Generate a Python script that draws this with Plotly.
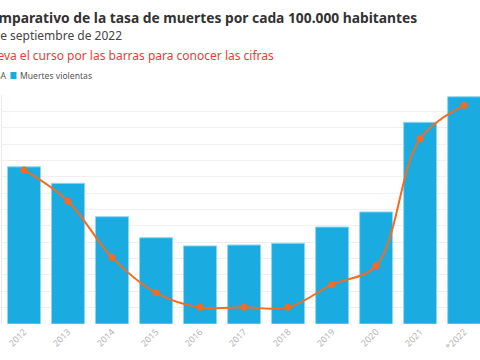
import plotly.graph_objects as go

years = ["2012", "2013", "2014", "2015", "2016", "2017", "2018", "2019", "2020", "2021", "*2022"]
muertes = [1922, 1720, 1312, 1055, 955, 966, 987, 1186, 1370, 2466, 2779]
tasa = [12.4, 10.9, 8.2, 6.5, 5.8, 5.8, 5.8, 6.9, 7.8, 13.9, 15.5]

W, H = 480, 360
L, R, T, B = 2, 0, 95, 36
pw, ph = W - L - R, H - T - B

def px(x):
    return (x - L) / pw

def py(y):
    return (H - B - y) / ph

FONT = "Noto Sans"

fig = go.Figure()
fig.add_trace(go.Bar(
    x=years, y=muertes, name="Muertes violentas",
    marker=dict(color="#1AABE0", line=dict(color="#8ED6F2", width=1)),
    yaxis="y", showlegend=False,
))
fig.add_trace(go.Scatter(
    x=years, y=tasa, name="TASA", mode="lines+markers",
    line=dict(color="#F36C21", width=2, shape="spline", smoothing=1),
    marker=dict(color="#F36C21", size=7),
    yaxis="y2", showlegend=False,
))

annotations = [
    dict(text="<b>Comparativo de la tasa de muertes por cada 100.000 habitantes</b>",
         x=px(418), y=py(17), xanchor="right", yanchor="middle",
         font=dict(family=FONT, size=13.8, color="#333333")),
    dict(text="Datos al 30 de septiembre de 2022",
         x=px(123), y=py(35), xanchor="right", yanchor="middle",
         font=dict(family=FONT, size=12, color="#444444")),
    dict(text="Lleva el curso por las barras para conocer las cifras",
         x=px(275), y=py(55), xanchor="right", yanchor="middle",
         font=dict(family=FONT, size=12, color="#F03A3A")),
    dict(text="TASA",
         x=px(7), y=py(76), xanchor="right", yanchor="middle",
         font=dict(family=FONT, size=8.6, color="#555555")),
    dict(text="Muertes violentas",
         x=px(19), y=py(76), xanchor="left", yanchor="middle",
         font=dict(family=FONT, size=8.6, color="#555555")),
]
for a in annotations:
    a.update(xref="paper", yref="paper", showarrow=False, borderpad=0)

fig.update_layout(
    width=W, height=H,
    margin=dict(l=L, r=R, t=T, b=B, pad=0),
    paper_bgcolor="white", plot_bgcolor="white",
    bargap=0.25,
    annotations=annotations,
    shapes=[dict(type="rect", xref="paper", yref="paper",
                 x0=px(10.5), x1=px(16.5), y0=py(79), y1=py(72),
                 fillcolor="#1AABE0", line=dict(width=0))],
    xaxis=dict(range=[-0.5, 10.36], tickangle=-45,
               tickfont=dict(family=FONT, size=9, color="#B5B5B5"),
               showgrid=False, zeroline=False, showline=False, ticks=""),
    yaxis=dict(range=[0, 2800], dtick=200, showgrid=True, gridcolor="#EFEFEF",
               gridwidth=1, zeroline=False, showticklabels=False,
               showline=True, linecolor="#F2E6E6", linewidth=1),
    yaxis2=dict(range=[5, 16], overlaying="y", side="right", showgrid=False,
                zeroline=False, showticklabels=False),
    hovermode="x",
)

fig.write_html("out.html", config={"displayModeBar": False},
               post_script="document.body.style.margin='0';")
